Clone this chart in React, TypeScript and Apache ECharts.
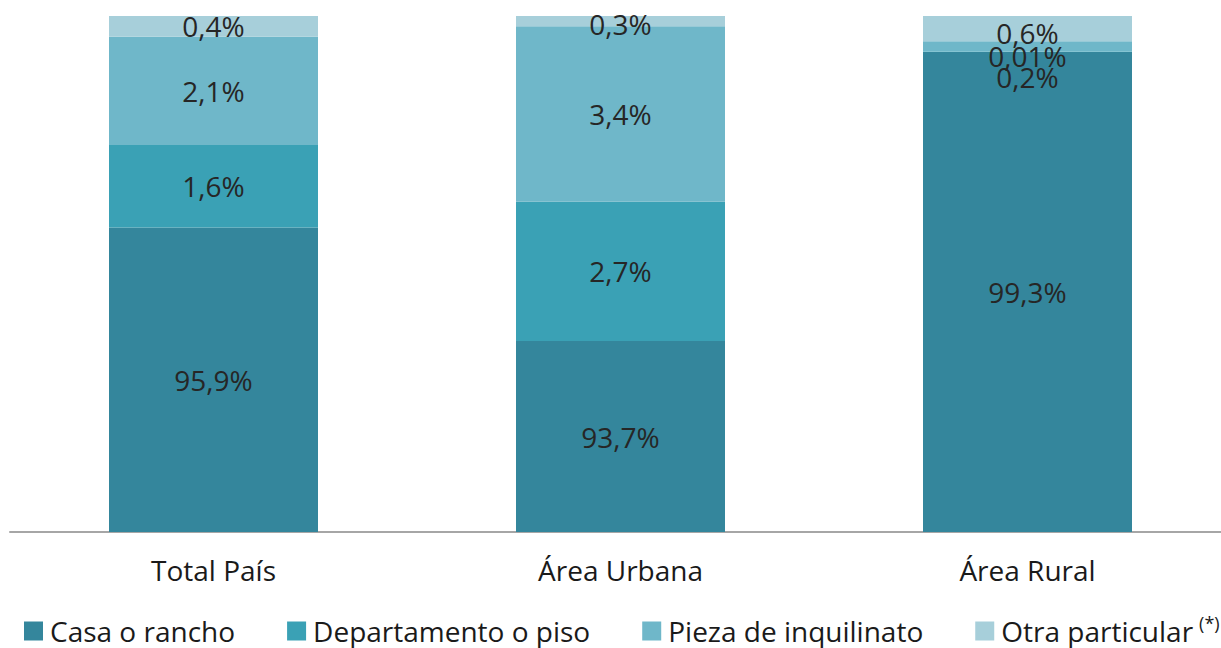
import React, { useEffect, useRef } from "react";
import * as echarts from "echarts";

const categories = ["Total País", "Área Urbana", "Área Rural"];
const seriesNames = ["Casa o rancho", "Departamento o piso", "Pieza de inquilinato", "Otra particular"];
const casa = [95.9, 93.7, 99.3];
const departamento = [1.6, 2.7, 0.01];
const pieza = [2.1, 3.4, 0.2];
const otra = [0.4, 0.3, 0.6];
const colors = ["#34869C", "#3AA1B5", "#6FB7C9", "#A7CFDA"];

const fmt = (p: any) => String(p.value).replace(".", ",") + "%";

export default function App() {
  const ref = useRef<HTMLDivElement>(null);
  useEffect(() => {
    if (!ref.current) return;
    const chart = echarts.init(ref.current, null, { renderer: "svg" });
    const font = "'Open Sans', sans-serif";
    const label = {
      show: true,
      position: "inside",
      fontSize: 28,
      fontFamily: font,
      color: "#262626",
      formatter: fmt,
    };
    const mk = (name: string, vals: number[], color: string, offsets: (number[] | null)[]) => ({
      name,
      type: "bar",
      stack: "t",
      barWidth: 209,
      itemStyle: { color },
      label,
      data: vals.map((v, i) =>
        offsets[i] ? { value: v, label: { offset: offsets[i] } } : { value: v }
      ),
    });
    chart.setOption({
      animation: false,
      grid: { left: 10, top: 16, width: 1221, height: 516 },
      xAxis: {
        type: "category",
        data: categories,
        axisLine: { lineStyle: { color: "#A6A6A6", width: 2 } },
        axisTick: { show: false },
        axisLabel: { fontSize: 28, fontFamily: font, color: "#1a1a1a", margin: 24 },
      },
      yAxis: { type: "value", min: 90, max: 100, show: false, splitLine: { show: false } },
      legend: {
        left: 19,
        top: 609,
        icon: "rect",
        itemWidth: 19,
        itemHeight: 19,
        itemGap: 52,
        textStyle: {
          fontSize: 28,
          fontFamily: font,
          color: "#1a1a1a",
          padding: [0, 0, 0, 2],
          rich: {
            sup: { fontSize: 18, fontFamily: font, color: "#1a1a1a", padding: [0, 0, 16, 6] },
          },
        },
        formatter: (n: string) => (n === "Otra particular" ? n + "{sup|(*)}" : n),
        data: seriesNames,
      },
      series: [
        mk(seriesNames[0], casa, colors[0], [null, null, null]),
        mk(seriesNames[1], departamento, colors[1], [null, null, [0, 4]]),
        mk(seriesNames[2], pieza, colors[2], [null, null, [0, 31]]),
        mk(seriesNames[3], otra, colors[3], [null, [0, 3], [0, 4]]),
      ],
    });
    return () => chart.dispose();
  }, []);
  return (
    <div style={{ position: "fixed", left: 0, top: 0, width: 1221, height: 648, overflow: "hidden", background: "#fff" }}>
      <div ref={ref} style={{ width: 1260, height: 648 }} />
    </div>
  );
}
